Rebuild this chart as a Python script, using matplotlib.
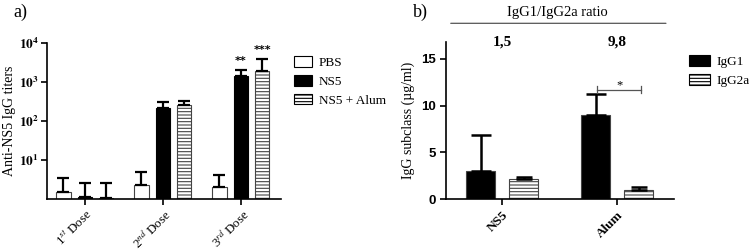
import numpy as np
import matplotlib
matplotlib.use('Agg')
import matplotlib.pyplot as plt
from matplotlib.patches import Patch

plt.rcParams['font.family'] = ['Liberation Serif', 'DejaVu Serif']
plt.rcParams['mathtext.fontset'] = 'stix'
plt.rcParams['hatch.linewidth'] = 0.8

# panel a) data
doses = ['1$^{st}$ Dose', '2$^{nd}$ Dose', '3$^{rd}$ Dose']
groups_a = ['PBS', 'NS5', 'NS5 + Alum']
titers = {
    'PBS': [1.5, 2.3, 2.0],
    'NS5': [1.1, 215, 1420],
    'NS5 + Alum': [1.05, 260, 1900],
}
titers_err = {
    'PBS': [2.0, 2.6, 2.1],
    'NS5': [1.5, 95, 600],
    'NS5 + Alum': [1.55, 60, 2000],
}
stars_a = {'NS5': ['', '', '**'], 'NS5 + Alum': ['', '', '***']}

# panel b) data
adjuvants = ['NS5', 'Alum']
subclasses = ['IgG1', 'IgG2a']
igg = {'IgG1': [3.0, 9.0], 'IgG2a': [2.1, 0.95]}
igg_err = {'IgG1': [3.8, 2.2], 'IgG2a': [0.3, 0.35]}
ratios = ['1,5', '9,8']

styles = {
    'PBS': dict(facecolor='white', hatch=None),
    'NS5': dict(facecolor='black', hatch=None),
    'NS5 + Alum': dict(facecolor='white', hatch='-----'),
    'IgG1': dict(facecolor='black', hatch=None),
    'IgG2a': dict(facecolor='white', hatch='-----'),
}

fig = plt.figure(figsize=(7.5, 2.5), dpi=100)

# ---------- a) ----------
ax = fig.add_axes([0.0627, 0.204, 0.312, 0.624])
x = np.arange(len(doses))
offs = [-0.28, 0.0, 0.27]
w = 0.19
for g, o in zip(groups_a, offs):
    st = styles[g]
    vals = np.array(titers[g])
    ax.bar(x + o, vals - 1, w, bottom=1, color=st['facecolor'],
           edgecolor='black' if g == 'NS5' else '#444444', hatch=st['hatch'], linewidth=0.8)
    ax.errorbar(x + o, vals, yerr=[np.zeros(3), titers_err[g]], fmt='none', ecolor='black',
                elinewidth=1.6, capsize=4, capthick=1.6)
    for i, s in enumerate(stars_a.get(g, [''] * 3)):
        if s:
            ax.text(x[i] + o, (vals[i] + titers_err[g][i]) * 1.25, s, ha='center', va='bottom',
                    fontsize=8, fontweight='bold', family='DejaVu Sans')
ax.set_yscale('log')
ax.set_ylim(1, 1e4)
ax.set_xlim(-0.487, 2.513)
ax.set_yticks([10, 100, 1000, 10000])
ax.set_yticklabels([r'$\mathbf{10^{%d}}$' % k for k in range(1, 5)], fontsize=9.5)
ax.yaxis.set_minor_locator(matplotlib.ticker.NullLocator())
ax.set_xticks(x)
ax.set_xticklabels(doses, rotation=45, ha='right', rotation_mode='anchor', fontsize=9.3)
ax.set_ylabel('Anti-NS5 IgG titers', fontsize=10, labelpad=2)
for sp in ['top', 'right']:
    ax.spines[sp].set_visible(False)
for sp in ['left', 'bottom']:
    ax.spines[sp].set_linewidth(1.2)
ax.tick_params(width=1.2, length=4)
ax.tick_params(axis='y', pad=2)
ax.tick_params(axis='x', pad=1.5)
handles = [Patch(facecolor=styles[g]['facecolor'], edgecolor='black', hatch=styles[g]['hatch'], linewidth=0.8)
           for g in groups_a]
ax.legend(handles, groups_a, loc='upper left', bbox_to_anchor=(1.02, 0.97), frameon=False, fontsize=9.5,
          handlelength=1.4, handleheight=0.9, handletextpad=0.5, labelspacing=0.45, borderaxespad=0.2)
fig.text(0.018, 0.95, 'a)', fontsize=13, va='center')

# ---------- b) ----------
bx = fig.add_axes([0.5947, 0.204, 0.304, 0.628])
xb = np.arange(len(adjuvants))
offs_b = [-0.185, 0.19]
wb = 0.25
for sc, o in zip(subclasses, offs_b):
    st = styles[sc]
    bx.bar(xb + o, igg[sc], wb, color=st['facecolor'], edgecolor='#444444', hatch=st['hatch'], linewidth=0.8)
    bx.errorbar(xb + o, igg[sc], yerr=[np.zeros(2), igg_err[sc]], fmt='none', ecolor='black',
                elinewidth=1.8, capsize=7 if sc == 'IgG1' else 6, capthick=1.8)
bx.set_ylim(0, 16.8)
bx.set_xlim(-0.487, 1.496)
bx.set_yticks([0, 5, 10, 15])
bx.set_yticklabels(['0', '5', '10', '15'], family='Liberation Sans', fontweight='bold', fontsize=9.5)
bx.set_xticks(xb)
bx.set_xticklabels(adjuvants, rotation=45, ha='right', rotation_mode='anchor', fontsize=9.5, fontweight='bold')
bx.set_ylabel('IgG subclass (µg/ml)', fontsize=10)
for sp in ['top', 'right']:
    bx.spines[sp].set_visible(False)
for sp in ['left', 'bottom']:
    bx.spines[sp].set_linewidth(1.2)
bx.tick_params(width=1.2, length=4)

# significance bracket
y_br = 11.7
x0, x1 = 1 - 0.17, 1 + 0.21
bx.plot([x0, x1], [y_br, y_br], color='#555555', lw=0.9)
bx.plot([x0, x0], [y_br - 0.35, y_br + 0.35], color='#555555', lw=0.9)
bx.plot([x1, x1], [y_br - 0.35, y_br + 0.35], color='#555555', lw=0.9)
bx.text((x0 + x1) / 2, y_br - 0.2, '*', ha='center', va='bottom', fontsize=9)

# ratio annotation
for xi, r in zip(xb, ratios):
    bx.text(xi, 16.8, r, ha='center', va='center', fontsize=11, fontweight='bold', clip_on=False)
bx.annotate('', xy=(-0.47, 18.8), xytext=(1.45, 18.8), annotation_clip=False,
            arrowprops=dict(arrowstyle='-', color='#555555', lw=0.9))
bx.text(0.48, 20.0, 'IgG1/IgG2a ratio', ha='center', va='center', fontsize=10.5, clip_on=False)

handles_b = [Patch(facecolor=styles[s]['facecolor'], edgecolor='black', hatch=styles[s]['hatch'], linewidth=0.8)
             for s in subclasses]
bx.legend(handles_b, subclasses, loc='upper left', bbox_to_anchor=(1.03, 0.97), frameon=False, fontsize=9.5,
          handlelength=1.6, handleheight=0.9, handletextpad=0.5, labelspacing=0.45, borderaxespad=0.2)
fig.text(0.55, 0.95, 'b)', fontsize=13, va='center')

fig.savefig('out.png', dpi=100)
